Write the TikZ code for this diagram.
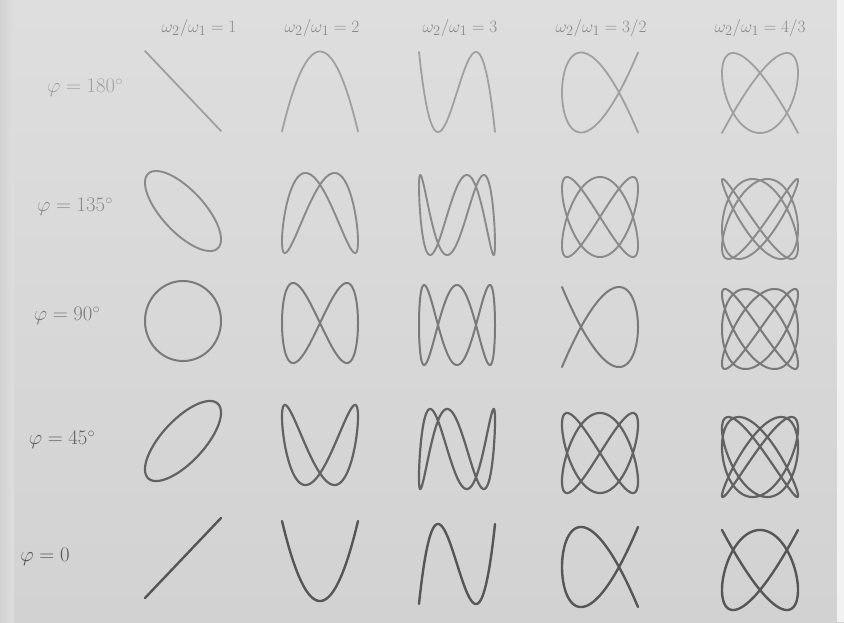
\documentclass[tikz,border=0pt]{standalone}
\definecolor{bgc}{HTML}{DEDEDE}
\definecolor{bgd}{HTML}{D2D2D2}
\definecolor{hdrc}{HTML}{8A8A8A}
\definecolor{ca}{HTML}{A0A0A0}
\definecolor{cb}{HTML}{8A8A8A}
\definecolor{cc}{HTML}{7A7A7A}
\definecolor{cd}{HTML}{626262}
\definecolor{ce}{HTML}{565656}
\tikzset{
  hdr/.style={text=hdrc, font=\fontsize{19}{22}\selectfont, inner sep=0pt},
  rowlab/.style={font=\fontsize{21}{24}\selectfont, inner sep=0pt},
  lis/.style={line join=round, line cap=round}
}
\begin{document}
\begin{tikzpicture}[x=1pt,y=-1pt]
\useasboundingbox (0,0) rectangle (844,622);
\shade[top color=bgc, bottom color=bgd] (0,0) rectangle (844,622);
\shade[left color=bgd, right color=bgc] (0,0) rectangle (14,622);
\fill[white!60!bgc] (837,0) rectangle (844,622);
% headers
\node[hdr] (h1) at (199,28) {$\omega_2/\omega_1 = 1$};
\node[hdr] (h2) at (322,28) {$\omega_2/\omega_1 = 2$};
\node[hdr] (h3) at (460,28) {$\omega_2/\omega_1 = 3$};
\node[hdr] (h4) at (601,28) {$\omega_2/\omega_1 = 3/2$};
\node[hdr] (h5) at (760,28) {$\omega_2/\omega_1 = 4/3$};
% row labels
\node[rowlab, text=ca] (p180) at (85,88) {$\varphi = 180^\circ$};
\node[rowlab, text=cb] (p135) at (75,207) {$\varphi = 135^\circ$};
\node[rowlab, text=cc] (p90) at (67,316) {$\varphi = 90^\circ$};
\node[rowlab, text=cd] (p45) at (62,440) {$\varphi = 45^\circ$};
\node[rowlab, text=ce] (p0) at (45,557) {$\varphi = 0$};
% Lissajous figures
\foreach \ph/\ry/\k/\col/\lw in {180/91/0.5/ca/1.8, 135/211/2/cb/1.9, 90/321/2/cc/2.0, 45/441/4/cd/2.2, 0/558/3/ce/2.4} {
  \foreach \ci/\cx/\wa/\wb in {0/183/1/1, 1/320/1/2, 2/457/1/3, 3/600/2/3, 4/760/3/4} {
    \draw[lis, draw=\col, line width=\lw] plot[domain=0:360, samples=500, variable=\t]
      ({\cx+38*cos(\wa*\t)}, {\ry+\k*\ci-40*cos(\wb*\t+\ph)});
  }
}
\end{tikzpicture}
\end{document}
